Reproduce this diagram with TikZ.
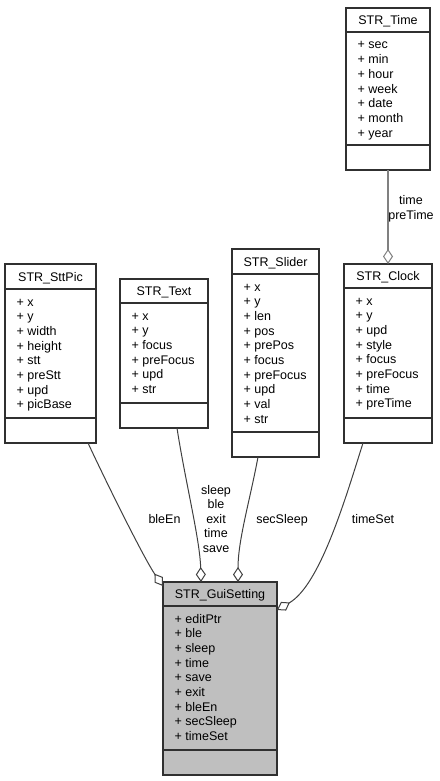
\documentclass[tikz,border=0pt]{standalone}
\usepackage{fontspec}
\setmainfont{Liberation Sans}
\usetikzlibrary{arrows.meta,calc}
\definecolor{edgec}{HTML}{404040}
\definecolor{boxc}{HTML}{303030}
\definecolor{guifill}{HTML}{BFBFBF}
\definecolor{timeedge}{HTML}{808080}
\tikzset{
  classbox/.style={draw=boxc,line width=1.2bp,rectangle,inner sep=0pt,outer sep=0pt},
  classline/.style={draw=boxc,line width=1.2bp},
  lbl/.style={inner sep=0pt,font=\fontsize{12.5bp}{14.6bp}\selectfont},
  attr/.style={lbl,anchor=base west},
  edge/.style={draw=edgec,line width=1bp,-{Diamond[fill=white,length=15bp,width=10bp]}},
  timeedgestyle/.style={draw=timeedge,line width=2bp,-{Diamond[fill=white,length=15bp,width=10bp,line width=1bp]}}
}
% [fill] name left top right sep divider title rows
\newcommand\umlclass[9][white]{%
  \node[classbox,fill=#1,anchor=north west,
        minimum width={(#5-#3)*1bp},minimum height={(#7+25-#4)*1bp}] (#2) at (#3,#4) {};
  \draw[classline] (#3,#6) -- (#5,#6);
  \draw[classline] (#3,#7) -- (#5,#7);
  \node[lbl,anchor=base] (#2-t) at ({(#3+#5)/2},{(#4+#6)/2+4.5}) {#8};
  \foreach \r [count=\i from 0] in {#9} {
    \node[attr] (#2-a\i) at (#3+11.5,#6+17+\i*14.7) {+ \r};
  }%
}
\begin{document}
\begin{tikzpicture}[x=1bp,y=-1bp]
\useasboundingbox (0,0) rectangle (440,781);
\umlclass{time}{346}{8}{430}{32}{145}{STR\_Time}{sec,min,hour,week,date,month,year}
\umlclass{clock}{344}{264}{432}{288}{418}{STR\_Clock}{x,y,upd,style,focus,preFocus,time,preTime}
\umlclass{slider}{232}{249}{319}{274}{432}{STR\_Slider}{x,y,len,pos,prePos,focus,preFocus,upd,val,str}
\umlclass{text}{120}{279}{208}{303}{403}{STR\_Text}{x,y,focus,preFocus,upd,str}
\umlclass{sttpic}{5}{264}{96}{289}{418}{STR\_SttPic}{x,y,width,height,stt,preStt,upd,picBase}
\umlclass[guifill]{gui}{163}{582}{277}{606}{750}{STR\_GuiSetting}{editPtr,ble,sleep,time,save,exit,bleEn,secSleep,timeSet}

% edges
\draw[timeedgestyle] (time.south) -- (clock.north);
\draw[edge] ([xshift=37.5bp]sttpic.south) .. controls (110,490) and (145,560) .. ([yshift=-4bp]gui.north west);
\draw[edge] ([xshift=13bp]text.south) .. controls (185,480) and (200,540) .. ([xshift=-19bp]gui.north);
\draw[edge] ([xshift=-17.5bp]slider.south) .. controls (250,500) and (238,540) .. ([xshift=18bp]gui.north);
\draw[edge] ([xshift=-25bp]clock.south) .. controls (345,500) and (320,585) .. ([yshift=-28bp]gui.north east);

% labels (base anchor of a multi-line node = baseline of its last line)
\node[lbl,align=center,anchor=base] (lbltime) at (411,219.5) {time\\preTime};
\node[lbl,anchor=base] (lblbleen) at (164.5,523) {bleEn};
\node[lbl,align=center,anchor=base] (lblsleep) at (216,552.5) {sleep\\ble\\exit\\time\\save};
\node[lbl,anchor=base] (lblsec) at (282,523) {secSleep};
\node[lbl,anchor=base] (lbltimeset) at (373,523) {timeSet};
\end{tikzpicture}
\end{document}
